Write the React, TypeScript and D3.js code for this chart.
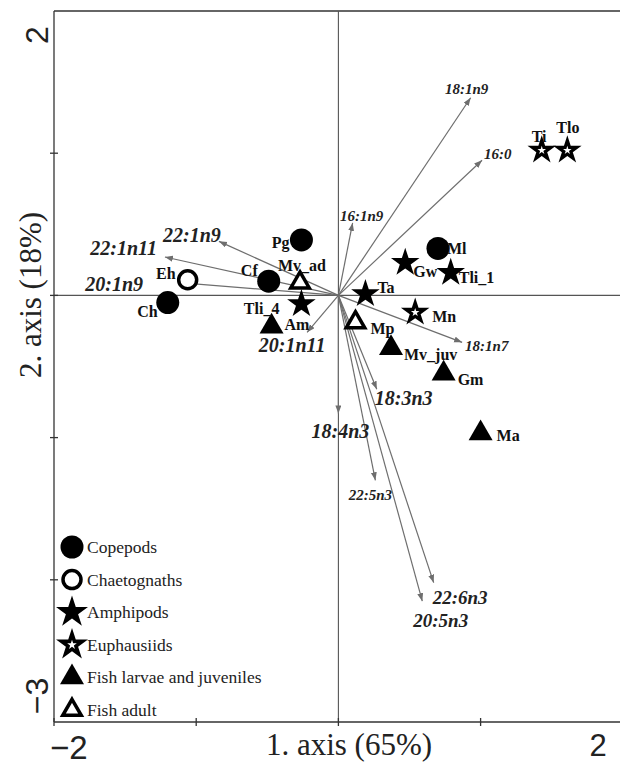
import React from 'react';
import * as d3 from 'd3';

// species scores (axis 1, axis 2)
const speciesNames = ['Pg', 'Ml', 'Cf', 'Ch', 'Eh', 'Tli_4', 'Mv_ad', 'Am', 'Ta', 'Gw', 'Tli_1', 'Mn', 'Mp', 'Mv_juv', 'Gm', 'Ma', 'Ti', 'Tlo'];
const speciesGroup = [
  'Copepods', 'Copepods', 'Copepods', 'Copepods', 'Chaetognaths', 'Amphipods', 'Fish adult', 'Fish larvae and juveniles',
  'Amphipods', 'Amphipods', 'Amphipods', 'Euphausiids', 'Fish adult', 'Fish larvae and juveniles',
  'Fish larvae and juveniles', 'Fish larvae and juveniles', 'Euphausiids', 'Euphausiids',
];
const speciesX = [-0.26, 0.70, -0.49, -1.20, -1.06, -0.26, -0.27, -0.47, 0.19, 0.47, 0.79, 0.54, 0.12, 0.37, 0.74, 1.00, 1.43, 1.61];
const speciesY = [0.39, 0.33, 0.10, -0.05, 0.11, -0.06, 0.09, -0.22, 0.01, 0.23, 0.16, -0.12, -0.19, -0.37, -0.55, -0.97, 1.02, 1.02];

// fatty acid vectors
const acidNames = ['18:1n9', '16:0', '16:1n9', '22:1n9', '22:1n11', '20:1n9', '20:1n11', '18:1n7', '18:3n3', '18:4n3', '22:5n3', '22:6n3', '20:5n3'];
const acidX = [0.93, 1.01, 0.10, -0.84, -1.22, -1.12, -0.22, 0.87, 0.27, 0.0, 0.26, 0.67, 0.59];
const acidY = [1.39, 0.95, 0.51, 0.38, 0.27, 0.09, -0.26, -0.33, -0.66, -0.83, -1.30, -2.02, -2.15];

const groupNames = ['Copepods', 'Chaetognaths', 'Amphipods', 'Euphausiids', 'Fish larvae and juveniles', 'Fish adult'];
const xTicks = [-2, -1, 0, 1];
const yTicks = [1, 0, -1, -2];

// label placement, px from the point
const speciesLabelPos: Record<string, [number, number, string]> = {
  Pg: [-12, 8, 'end'], Ml: [9, 6, 'start'], Cf: [-11, -5, 'end'], Ch: [-10, 14, 'end'],
  Eh: [-12, -1, 'end'], Tli_4: [-22, 10, 'end'], Mv_ad: [2, -12, 'middle'], Am: [13, 3, 'start'],
  Ta: [12, -1, 'start'], Gw: [8, 14, 'start'], Tli_1: [8, 10, 'start'], Mn: [17, 10, 'start'],
  Mp: [15, 12, 'start'], Mv_juv: [13, 12, 'start'], Gm: [14, 11, 'start'], Ma: [16, 8, 'start'],
  Ti: [-10, -8, 'start'], Tlo: [-11, -17, 'start'],
};
const acidLabelPos: Record<string, [number, number, string, number]> = {
  '18:1n9': [-4, -4, 'middle', 15], '16:0': [2, -1, 'start', 15], '16:1n9': [9, -2, 'middle', 15],
  '22:1n9': [-27, 1, 'middle', 20], '22:1n11': [-8, -2, 'end', 20], '20:1n9': [-36, 8, 'end', 20],
  '20:1n11': [-15, 20, 'middle', 20], '18:1n7': [3, 9, 'start', 15], '18:3n3': [-2, 16, 'start', 20],
  '18:4n3': [2, 25, 'middle', 20], '22:5n3': [-5, 20, 'middle', 15], '22:6n3': [-1, 21, 'start', 19],
  '20:5n3': [-9, 26, 'start', 19],
};

const W = 620;
const H = 767;
const serif = '"Liberation Serif", "Times New Roman", serif';
const sans = '"Liberation Sans", Arial, sans-serif';
const arrowColor = '#6e6e6e';

const x = d3.scaleLinear().domain([-2, 2]).range([54, 54 + 4 * 142.2]);
const y = d3.scaleLinear().domain([-3, 2]).range([722, 11]);

const circle = (r: number) => d3.symbol(d3.symbolCircle, Math.PI * r * r)() as string;
const star = (r: number) => d3.symbol(d3.symbolStar, (r * r) / 0.8908130915292852)() as string;
const tri = (s: number) => d3.symbol(d3.symbolTriangle, (s * s * Math.sqrt(3)) / 4)() as string;

function Marker({ group, cx, cy, k = 1 }: { group: string; cx: number; cy: number; k?: number }) {
  const t = `translate(${cx},${cy})`;
  switch (group) {
    case 'Copepods':
      return <path transform={t} d={circle(11.5 * k)} fill="#000" />;
    case 'Chaetognaths':
      return <path transform={t} d={circle(9 * k)} fill="#fff" stroke="#000" strokeWidth={3.5} />;
    case 'Amphipods':
      return <path transform={t} d={star(15 * k)} fill="#000" />;
    case 'Euphausiids':
      return (
        <g transform={t}>
          <path d={star(15 * k)} fill="#000" />
          <path d={star(4.5 * k)} fill="#fff" />
        </g>
      );
    case 'Fish larvae and juveniles':
      return <path transform={t} d={tri(24 * k)} fill="#000" />;
    default:
      return <path transform={t} d={tri(18.5 * k)} fill="#fff" stroke="#000" strokeWidth={3.5} />;
  }
}

export default function App() {
  const x0 = x(0);
  const y0 = y(0);
  return (
    <svg width={W} height={H} style={{ position: 'absolute', left: 0, top: 0, background: '#fff' }}>
      <defs>
        <marker id="head" markerUnits="userSpaceOnUse" markerWidth={9} markerHeight={7} refX={8} refY={3} orient="auto">
          <path d="M0,0 L8,3 L0,6 z" fill={arrowColor} />
        </marker>
      </defs>

      {/* frame and zero lines */}
      <g stroke="#333" strokeWidth={1.3} fill="none">
        <line x1={x(-2)} x2={W} y1={y(2)} y2={y(2)} />
        <line x1={x(-2)} x2={x(-2)} y1={y(2)} y2={y(-3)} />
        <line x1={x(-2)} x2={W} y1={y(-3)} y2={y(-3)} />
        <line x1={x0} x2={x0} y1={y(2)} y2={y(-3)} stroke="#555" strokeWidth={1.1} />
        <line x1={x(-2)} x2={W} y1={y0} y2={y0} stroke="#555" strokeWidth={1.1} />
        {xTicks.map((t) => (
          <line key={'xt' + t} x1={x(t)} x2={x(t)} y1={y(-3) - 4} y2={y(-3) + 4} />
        ))}
        {yTicks.map((t) => (
          <line key={'yt' + t} x1={x(-2) - 4} x2={x(-2) + 4} y1={y(t)} y2={y(t)} />
        ))}
      </g>

      {/* axis labels */}
      <text x={x(-2) - 4} y={759} fontFamily={sans} fontSize={33} fill="#222">−2</text>
      <text x={598} y={756} fontFamily={sans} fontSize={31} fill="#222" textAnchor="middle">2</text>
      <text x={349} y={755} fontFamily={serif} fontSize={31} fill="#222" textAnchor="middle">1. axis (65%)</text>
      <text transform={`translate(48,35) rotate(-90)`} fontFamily={sans} fontSize={32} fill="#222" textAnchor="middle">2</text>
      <text transform={`translate(48,696) rotate(-90)`} fontFamily={sans} fontSize={32} fill="#222" textAnchor="middle">−3</text>
      <text transform={`translate(41,295) rotate(-90)`} fontFamily={serif} fontSize={31} fill="#222" textAnchor="middle">2. axis (18%)</text>

      {/* fatty acid arrows */}
      <g stroke={arrowColor} strokeWidth={1.2}>
        {acidNames.map((n, i) => (
          <line key={n} x1={x0} y1={y0} x2={x(acidX[i])} y2={y(acidY[i])} markerEnd="url(#head)" />
        ))}
      </g>
      <g fontFamily={serif} fontStyle="italic" fontWeight="bold" fill="#222">
        {acidNames.map((n, i) => {
          const [dx, dy, anchor, fs] = acidLabelPos[n];
          return (
            <text key={n} x={x(acidX[i]) + dx} y={y(acidY[i]) + dy} textAnchor={anchor} fontSize={fs}>
              {n}
            </text>
          );
        })}
      </g>

      {/* species */}
      {speciesNames.map((n, i) => (
        <Marker key={n} group={speciesGroup[i]} cx={x(speciesX[i])} cy={y(speciesY[i])} />
      ))}
      <g fontFamily={serif} fontWeight="bold" fontSize={16} fill="#111">
        {speciesNames.map((n, i) => {
          const [dx, dy, anchor] = speciesLabelPos[n];
          return (
            <text key={n} x={x(speciesX[i]) + dx} y={y(speciesY[i]) + dy} textAnchor={anchor}>
              {n}
            </text>
          );
        })}
      </g>

      {/* legend */}
      {groupNames.map((g, i) => {
        const cy = 547 + i * 32.6;
        return (
          <g key={g}>
            <Marker group={g} cx={72} cy={cy} k={g === 'Amphipods' || g === 'Euphausiids' ? 1.12 : 1} />
            <text x={87} y={cy + 6} fontFamily={serif} fontSize={17.5} fill="#222">{g}</text>
          </g>
        );
      })}
    </svg>
  );
}
